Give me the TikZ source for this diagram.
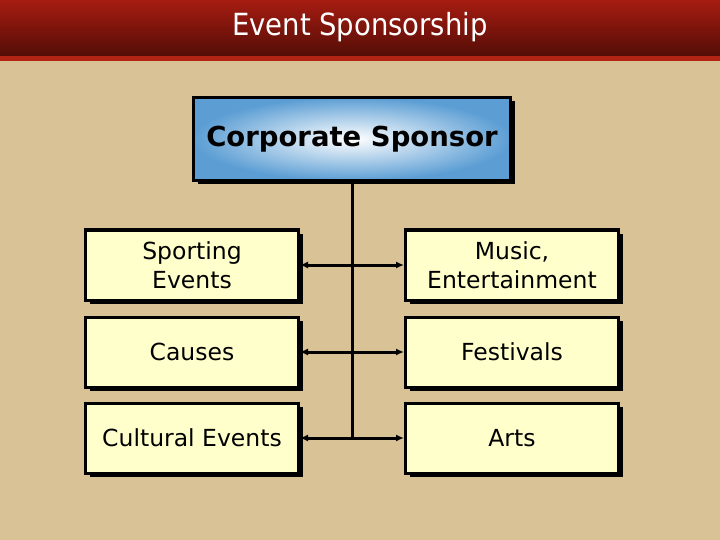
\documentclass[tikz,border=0pt]{standalone}
\usepackage{fontspec}
\setmainfont{DejaVu Sans}
\newfontfamily\titlefont{DejaVu Sans Condensed}
\usetikzlibrary{shadows,arrows.meta}
\definecolor{tan}{RGB}{216,194,150}
\definecolor{headtop}{RGB}{166,28,17}
\definecolor{headbot}{RGB}{84,13,7}
\definecolor{stripe}{RGB}{178,36,20}
\definecolor{boxfill}{RGB}{255,255,204}
\definecolor{skyblue}{RGB}{92,158,212}
\tikzset{
  itembox/.style={draw=black,line width=3pt,fill=boxfill,minimum width=213pt,minimum height=70pt,align=center,font=\fontsize{23.5}{29}\selectfont,drop shadow={shadow xshift=4pt,shadow yshift=-4pt,fill=black,opacity=1}},
  link/.style={line width=3pt,{Latex[length=8pt,width=7pt]}-{Latex[length=8pt,width=7pt]}}
}
\begin{document}
\begin{tikzpicture}[x=1pt,y=-1pt]
\useasboundingbox (0,0) rectangle (720,540);
%background and title bar
\fill[tan](0,0)rectangle(720,540);
\shade[top color=headtop,bottom color=headbot](0,0)rectangle(720,56);
\fill[stripe](0,56)rectangle(720,61);
\node[text=white,font=\titlefont\fontsize{30.5}{34}\selectfont](title)at(360,27){Event Sponsorship};
%sponsor at the top
\node[draw=black,line width=3pt,minimum width=317pt,minimum height=83pt,shading=radial,inner color=white,outer color=skyblue,font=\bfseries\fontsize{27.5}{32}\selectfont,drop shadow={shadow xshift=4pt,shadow yshift=-4pt,fill=black,opacity=1}](sponsor)at(352,139){Corporate Sponsor};
%event types
\node[itembox](sport)at(192,265){Sporting\\Events};
\node[itembox](music)at(512,265){Music,\\Entertainment};
\node[itembox](causes)at(192,352){Causes};
\node[itembox](fest)at(512,352){Festivals};
\node[itembox](culture)at(192,438){Cultural Events};
\node[itembox](arts)at(512,438){Arts};
%trunk and branches
\coordinate(trunk)at(352,438);
\draw[line width=3pt](sponsor.south)--(trunk);
\draw[link](sport.east)--(music.west);
\draw[link](causes.east)--(fest.west);
\draw[link](culture.east)--(arts.west);
\end{tikzpicture}
\end{document}
